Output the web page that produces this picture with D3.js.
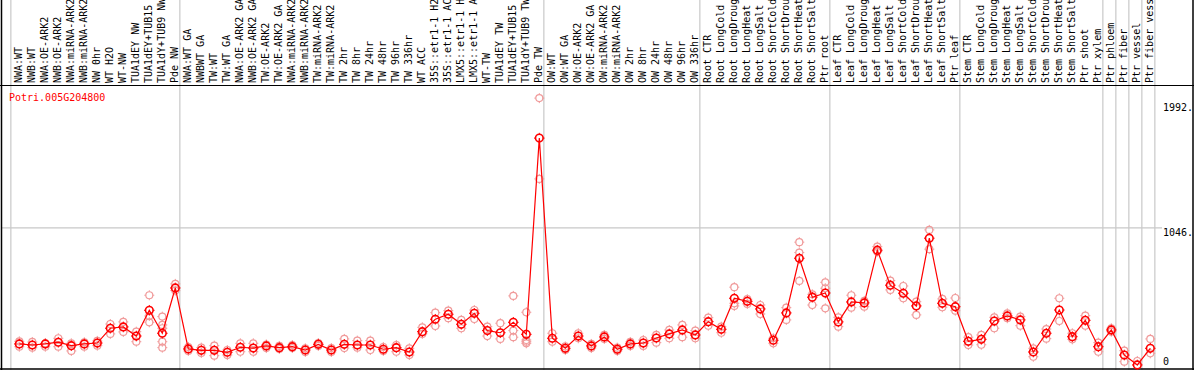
<!DOCTYPE html>
<html>
<head>
<meta charset="utf-8">
<script src="https://cdn.jsdelivr.net/npm/d3@7"></script>
<style>
body { margin: 0; background: #fff; }
svg text { font-family: "DejaVu Sans Mono", monospace; font-size: 10px; }
</style>
</head>
<body>
<svg id="chart" width="1194" height="370"></svg>
<script>

var geneName = "Potri.005G204800";

var samples = [
  "NWA:WT", "NWB:WT", "NWA:OE-ARK2", "NWB:OE-ARK2", "NWA:miRNA-ARK2", "NWB:miRNA-ARK2",
  "NW 0hr", "WT H2O", "WT-NW", "TUA1dEY NW", "TUA1dEY+TUB15 NW", "TUA1dY+TUB9 NW", "Pde NW",
  "NWA:WT GA", "NWBWT GA", "TW:WT", "TW:WT GA", "NWA:OE-ARK2 GA", "NWB:OE-ARK2 GA",
  "TW:OE-ARK2", "TW:OE-ARK2 GA", "NWA:miRNA-ARK2 GA", "NWB:miRNA-ARK2 GA", "TW:miRNA-ARK2",
  "TW:miRNA-ARK2 GA", "TW 2hr", "TW 8hr", "TW 24hr", "TW 48hr", "TW 96hr", "TW 336hr",
  "WT ACC", "35S::etr1-1 H2O", "35S::etr1-1 ACC", "LMX5::etr1-1 H2O", "LMX5::etr1-1 ACC",
  "WT-TW", "TUA1dEY TW", "TUA1dEY+TUB15 TW", "TUA1dY+TUB9 TW", "Pde TW",
  "OW:WT", "OW:WT GA", "OW:OE-ARK2", "OW:OE-ARK2 GA", "OW:miRNA-ARK2", "OW:miRNA-ARK2 GA",
  "OW 2hr", "OW 8hr", "OW 24hr", "OW 48hr", "OW 96hr", "OW 336hr",
  "Root CTR", "Root LongCold", "Root LongDrought", "Root LongHeat", "Root LongSalt",
  "Root ShortCold", "Root ShortDrought", "Root ShortHeat", "Root ShortSalt", "Ptr root",
  "Leaf CTR", "Leaf LongCold", "Leaf LongDrought", "Leaf LongHeat", "Leaf LongSalt",
  "Leaf ShortCold", "Leaf ShortDrought", "Leaf ShortHeat", "Leaf ShortSalt", "Ptr leaf",
  "Stem CTR", "Stem LongCold", "Stem LongDrought", "Stem LongHeat", "Stem LongSalt",
  "Stem ShortCold", "Stem ShortDrought", "Stem ShortHeat", "Stem ShortSalt", "Ptr shoot",
  "Ptr xylem", "Ptr phloem", "Ptr fiber", "Ptr vessel", "Ptr fiber vessel"
];

// mean expression per sample
var means = [
  167, 159, 167, 180, 154, 167, 174, 286, 296, 227, 422, 248, 591,
  129, 119, 119, 104, 142, 136, 152, 139, 146, 121, 164, 121, 164, 159, 159, 127, 139, 106,
  260, 354, 392, 316, 399, 268, 252, 331, 240, 1726,
  210, 134, 227, 152, 220, 127, 167, 174, 212, 243, 273, 235,
  336, 278, 513, 490, 432, 195, 402, 816, 521, 553,
  334, 485, 478, 877, 612, 551, 455, 968, 475, 449,
  187, 202, 341, 379, 349, 106, 248, 424, 222, 346, 146,
  273, 83, 8, 134
];

// individual replicates per sample
var replicates = [
  [187, 146], [182, 139], [172, 146], [210, 146], [172, 114], [180, 146], [190, 154],
  [318, 243], [334, 258], [260, 184], [536, 379, 331], [374, 311, 286, 184, 139], [622, 571],
  [144, 114], [139, 99], [154, 78], [83, 121], [172, 108], [172, 108], [163, 136], [152, 129],
  [159, 136], [134, 106], [174, 152], [136, 106], [205, 136], [192, 139], [192, 121], [144, 114],
  [159, 108], [134, 83], [293, 243], [404, 303], [419, 362], [349, 286], [424, 356], [298, 227],
  [324, 205], [531, 268, 218], [407, 197, 184, 172], [2029, 1417],
  [248, 184], [148, 121], [248, 210], [167, 136], [235, 205], [139, 114], [182, 152],
  [197, 152], [235, 177], [273, 210], [311, 218], [268, 210],
  [366, 305], [298, 252], [597, 475, 455], [506, 470], [462, 394], [210, 172], [442, 349],
  [938, 859, 644], [543, 462], [634, 589, 437],
  [369, 298], [536, 442], [449, 493], [904, 866], [647, 576], [606, 513], [487, 387],
  [1031, 885], [508, 445], [515, 419],
  [218, 159], [235, 161], [369, 286], [399, 362], [374, 305], [134, 70], [280, 207],
  [513, 341], [248, 202], [381, 305], [177, 108],
  [286, 260], [116, 33], [38], [205, 96]
];

// index of the first sample of each group (last entry closes the final group)
var groupStarts = [0, 13, 41, 53, 63, 73, 84, 85, 86, 87, 88];

var yTicks = [0, 1046, 1992];
var yGrid = [1046];

var svg = d3.select("#chart");
var W = +svg.attr("width"), H = +svg.attr("height");
var headerBottom = 85.5;

var x = d3.scaleLinear().domain([0, samples.length - 1]).range([19.3, 1150.3]);
var y = d3.scaleLinear().domain([0, 1992]).range([366, 103]);
var slot = x(1) - x(0);

// grid
svg.append("g").selectAll("line").data(groupStarts).enter().append("line")
    .attr("x1", function(b){ return x(b) - slot * 0.65; })
    .attr("x2", function(b){ return x(b) - slot * 0.65; })
    .attr("y1", 0).attr("y2", H)
    .attr("stroke", "#c8c8c8").attr("stroke-width", 1.2);

svg.append("g").selectAll("line").data(yGrid).enter().append("line")
    .attr("x1", 1).attr("x2", 1162)
    .attr("y1", function(d){ return y(d); }).attr("y2", function(d){ return y(d); })
    .attr("stroke", "#c8c8c8").attr("stroke-width", 1.2);

// frame
svg.append("line").attr("x1", 0).attr("x2", W).attr("y1", headerBottom).attr("y2", headerBottom)
    .attr("stroke", "#000").attr("stroke-width", 1);
svg.append("line").attr("x1", 1.5).attr("x2", 1.5).attr("y1", 0).attr("y2", H)
    .attr("stroke", "#000").attr("stroke-width", 1.5);
svg.append("line").attr("x1", W - 1).attr("x2", W - 1).attr("y1", 0).attr("y2", H)
    .attr("stroke", "#000").attr("stroke-width", 1.5);
svg.append("line").attr("x1", 0).attr("x2", W).attr("y1", H - 1).attr("y2", H - 1)
    .attr("stroke", "#000").attr("stroke-width", 1.5);

// sample labels
svg.append("g").selectAll("text").data(samples).enter().append("text")
    .attr("transform", function(d, i){ return "translate(" + (x(i) + 3) + "," + (headerBottom - 2.5) + ") rotate(-90)"; })
    .attr("fill", "#000")
    .text(function(d){ return d; });

// y labels
svg.append("g").selectAll("text").data(yTicks).enter().append("text")
    .attr("x", 1163)
    .attr("y", function(d){ return d === 0 ? y(d) - 1 : y(d) + 8; })
    .attr("fill", "#000")
    .text(function(d){ return d === 0 ? "0" : d + "."; });

svg.append("text").attr("x", 9).attr("y", 101).attr("fill", "#ff0000").text(geneName);

function marker(g, cx, cy, r, color, sw){
    g.append("circle").attr("cx", cx).attr("cy", cy).attr("r", r)
        .attr("fill", "none").attr("stroke", color).attr("stroke-width", sw);
    var t = r + 1.5;
    g.append("path")
        .attr("d", "M" + cx + "," + (cy - t) + "V" + (cy - r) + "M" + cx + "," + (cy + r) + "V" + (cy + t) +
                   "M" + (cx - t) + "," + cy + "H" + (cx - r) + "M" + (cx + r) + "," + cy + "H" + (cx + t))
        .attr("stroke", color).attr("stroke-width", 1);
}

// replicates
var gRep = svg.append("g");
replicates.forEach(function(reps, i){
    reps.forEach(function(v){ marker(gRep, x(i), y(v), 3.5, "#f09a9a", 1.2); });
});

// mean line
svg.append("path")
    .datum(means)
    .attr("fill", "none")
    .attr("stroke", "#ff0000")
    .attr("stroke-width", 1.2)
    .attr("d", d3.line()
        .x(function(d, i){ return x(i); })
        .y(function(d){ return y(d); }));

var gMean = svg.append("g");
means.forEach(function(v, i){ marker(gMean, x(i), y(v), 3.8, "#ff0000", 1.6); });

</script>
</body>
</html>
